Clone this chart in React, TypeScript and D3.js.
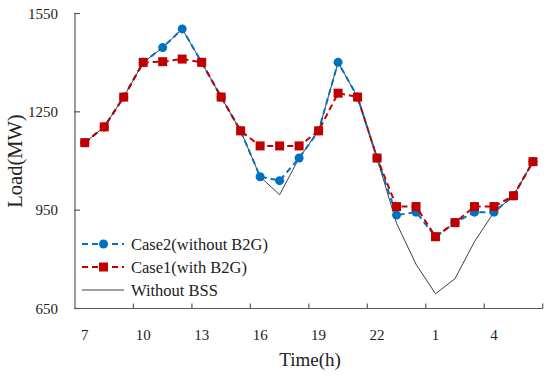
import React from 'react';
import * as d3 from 'd3';

// hours of the day, 7h through 6h next morning
const hours = ['7', '8', '9', '10', '11', '12', '13', '14', '15', '16', '17', '18', '19', '20', '21', '22', '23', '24', '1', '2', '3', '4', '5', '6'];
const tickHours = ['7', '10', '13', '16', '19', '22', '1', '4'];
const yTicks = [650, 950, 1250, 1550];

const case2 = [1156, 1204, 1295, 1401, 1446, 1503, 1401, 1295, 1192, 1052, 1040, 1109, 1192, 1401, 1295, 1109, 935, 944, 869, 912, 944, 944, 994, 1098];
const case1 = [1156, 1204, 1295, 1401, 1403, 1411, 1401, 1295, 1192, 1146, 1146, 1146, 1192, 1307, 1295, 1109, 961, 961, 869, 912, 961, 961, 994, 1098];
const withoutBSS = [1156, 1204, 1295, 1401, 1446, 1503, 1401, 1295, 1192, 1052, 997, 1109, 1192, 1401, 1295, 1109, 910, 785, 695, 741, 854, 944, 994, 1098];

const W = 550;
const H = 379;
const left = 75, right = 542.7, top = 13.5, bottom = 308.5;
const font = '"Liberation Serif", "Times New Roman", serif';
const blue = '#0070C0';
const red = '#C00000';
const axisColor = '#595959';

export default function App() {
  const x = d3.scaleBand<string>().domain(hours).range([left, right]).padding(0);
  const y = d3.scaleLinear().domain([650, 1550]).range([bottom, top]);
  const cx = (h: string) => (x(h) as number) + x.bandwidth() / 2;

  const line = d3.line<number>()
    .x((d, i) => cx(hours[i]))
    .y(d => y(d));

  // tick marks sit between categories, every 3 hours
  const tickPos = d3.range(1, hours.length / 3 + 1).map(k => left + k * 3 * x.bandwidth());

  const legendY = [244, 267, 290];

  return (
    <svg width={W} height={H} style={{ position: 'absolute', left: 0, top: 0, background: '#fff' }}>
      {/* axes */}
      <line x1={left} x2={left} y1={top} y2={bottom} stroke={axisColor} strokeWidth={1.2} />
      <line x1={left} x2={right} y1={bottom} y2={bottom} stroke={axisColor} strokeWidth={1.2} />
      {yTicks.map(t => (
        <g key={t}>
          <line x1={left - 1} x2={left + 5} y1={y(t)} y2={y(t)} stroke={axisColor} strokeWidth={1.2} />
          <text x={58} y={y(t) + 5} textAnchor="end" fontFamily={font} fontSize={15} fill="#222">{t}</text>
        </g>
      ))}
      {tickPos.map((p, i) => (
        <line key={i} x1={p} x2={p} y1={bottom} y2={bottom - 5} stroke={axisColor} strokeWidth={1.2} />
      ))}
      {tickHours.map(h => (
        <text key={h} x={cx(h)} y={340} textAnchor="middle" fontFamily={font} fontSize={15} fill="#222">{h}</text>
      ))}
      <text x={310} y={366} textAnchor="middle" fontFamily={font} fontSize={19} fill="#222">Time(h)</text>
      <text transform="translate(22,161) rotate(-90)" textAnchor="middle" fontFamily={font} fontSize={20.5} fill="#222">Load(MW)</text>

      {/* series */}
      <path d={line(withoutBSS) || ''} fill="none" stroke="#404040" strokeWidth={1} />
      <path d={line(case2) || ''} fill="none" stroke={blue} strokeWidth={2} strokeDasharray="6,4" />
      {case2.map((v, i) => (
        <circle key={i} cx={cx(hours[i])} cy={y(v)} r={4.5} fill={blue} />
      ))}
      <path d={line(case1) || ''} fill="none" stroke={red} strokeWidth={2} strokeDasharray="6,4" />
      {case1.map((v, i) => (
        <rect key={i} x={cx(hours[i]) - 4.5} y={y(v) - 4.5} width={9} height={9} fill={red} />
      ))}

      {/* legend */}
      <g>
        <line x1={82} x2={124} y1={legendY[0]} y2={legendY[0]} stroke={blue} strokeWidth={2} strokeDasharray="6,4" />
        <circle cx={103.5} cy={legendY[0]} r={4.5} fill={blue} />
        <text x={131} y={legendY[0] + 6} fontFamily={font} fontSize={16.5} fill="#222">Case2(without B2G)</text>
        <line x1={82} x2={124} y1={legendY[1]} y2={legendY[1]} stroke={red} strokeWidth={2} strokeDasharray="6,4" />
        <rect x={99} y={legendY[1] - 4.5} width={9} height={9} fill={red} />
        <text x={131} y={legendY[1] + 6} fontFamily={font} fontSize={16.5} fill="#222">Case1(with B2G)</text>
        <line x1={82} x2={124} y1={legendY[2]} y2={legendY[2]} stroke="#404040" strokeWidth={1} />
        <text x={131} y={legendY[2] + 6} fontFamily={font} fontSize={16.5} fill="#222">Without BSS</text>
      </g>
    </svg>
  );
}
